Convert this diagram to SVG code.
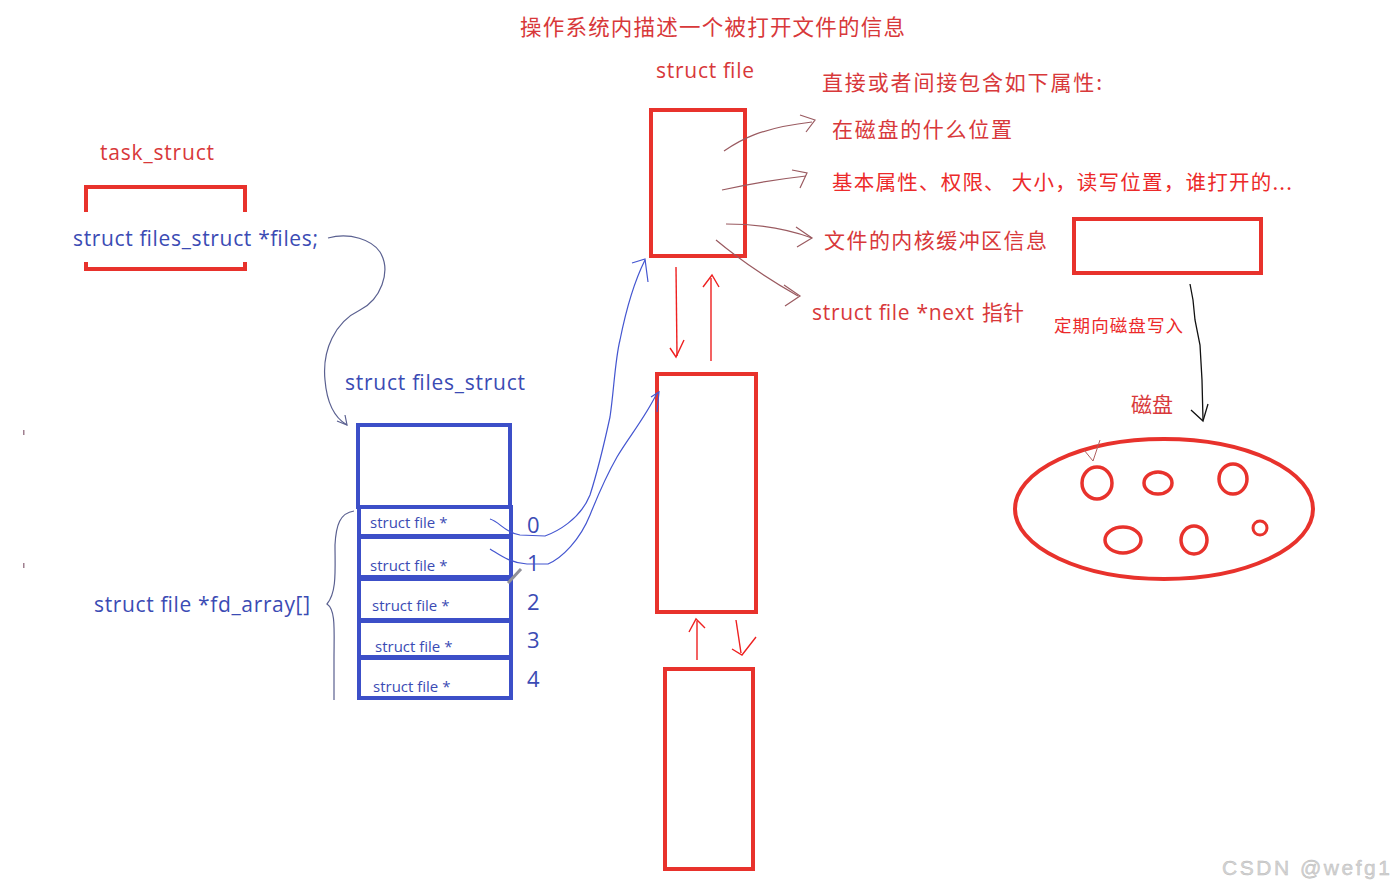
<svg xmlns="http://www.w3.org/2000/svg" width="1396" height="890" viewBox="0 0 1396 890">
<defs>
<style>
.cn{font-family:"Noto Sans CJK SC","Noto Sans",sans-serif;}
.lt{font-family:"Open Sans","Noto Sans",sans-serif;}
.red{fill:#d8383a;}
.bred{fill:#ec2a2a;}
.blue{fill:#3b4bb4;}
.rbox{fill:none;stroke:#e8322c;stroke-width:4;}
.bbox{fill:none;stroke:#3c4fc8;stroke-width:4;}
.thin{fill:none;stroke:#9a5a60;stroke-width:1.2;}
.bl{fill:none;stroke:#4456d0;stroke-width:1.2;}
.rl{fill:none;stroke:#ee2020;stroke-width:1.4;}
.sf{font-size:15px;}
</style>
</defs>
<rect width="1396" height="890" fill="#ffffff"/>

<text class="cn red" x="520" y="35" font-size="21.5" textLength="385">操作系统内描述一个被打开文件的信息</text>

<g id="task_struct">
<text class="lt red" x="100" y="160" font-size="21" textLength="114">task_struct</text>
<path d="M86,212 V187 H245 V212" fill="none" stroke="#e8322c" stroke-width="4"/>
<path d="M86,262 V269 H245 V262" fill="none" stroke="#e8322c" stroke-width="4"/>
<text class="lt blue" x="73" y="246" font-size="21" textLength="245">struct files_struct *files;</text>
</g>

<g id="files_struct">
<text class="lt blue" x="345" y="390" font-size="21" textLength="180">struct files_struct</text>
<rect class="bbox" x="358" y="425" width="152" height="82"/>
<rect class="bbox" x="359" y="507" width="152" height="29"/>
<rect class="bbox" x="359" y="537" width="152" height="40"/>
<rect class="bbox" x="359" y="579" width="152" height="41"/>
<rect class="bbox" x="359" y="621" width="152" height="36"/>
<rect class="bbox" x="359" y="658" width="152" height="40"/>
<text class="lt blue sf" x="370" y="528">struct file *</text>
<text class="lt blue sf" x="370" y="571">struct file *</text>
<text class="lt blue sf" x="372" y="611">struct file *</text>
<text class="lt blue sf" x="375" y="652">struct file *</text>
<text class="lt blue sf" x="373" y="692">struct file *</text>
<text class="lt blue" x="527" y="533" font-size="22">0</text>
<text class="lt blue" x="527" y="571" font-size="22">1</text>
<text class="lt blue" x="527" y="610" font-size="22">2</text>
<text class="lt blue" x="527" y="648" font-size="22">3</text>
<text class="lt blue" x="527" y="687" font-size="22">4</text>
</g>

<g id="fd_array">
<text class="lt blue" x="94" y="612" font-size="21" textLength="216">struct file *fd_array[]</text>
<path d="M354,511 C340,513 336,525 335,545 C335,570 337,592 327,604 C336,610 334,630 334,660 L334,700" fill="none" stroke="#5a6090" stroke-width="1.2"/>
</g>

<g id="file1"><rect class="rbox" x="651" y="110" width="94" height="146"/></g>
<g id="file2"><rect class="rbox" x="657" y="374" width="99" height="238"/></g>
<g id="file3"><rect class="rbox" x="665" y="669" width="88" height="200"/></g>
<g id="buffer"><rect class="rbox" x="1074" y="219" width="187" height="54"/></g>

<g id="attrs">
<text class="lt red" x="656" y="78" font-size="21" textLength="98">struct file</text>
<text class="cn red" x="822" y="90" font-size="21" textLength="280">直接或者间接包含如下属性:</text>
<text class="cn red" x="832" y="137" font-size="21" textLength="180">在磁盘的什么位置</text>
<text class="cn bred" x="832" y="190" font-size="20.5" textLength="460">基本属性、权限、 大小，读写位置，谁打开的...</text>
<text class="cn red" x="824" y="248" font-size="21" textLength="223">文件的内核缓冲区信息</text>
<text class="lt red" x="812" y="320" font-size="21" textLength="162">struct file *next</text>
<text class="cn red" x="982" y="320" font-size="21">指针</text>
<text class="cn bred" x="1054" y="332" font-size="17.5" textLength="129">定期向磁盘写入</text>
</g>

<g id="disk">
<text class="cn red" x="1131" y="412" font-size="21">磁盘</text>
<ellipse cx="1164" cy="509" rx="149" ry="70" fill="none" stroke="#e8322c" stroke-width="4"/>
<ellipse cx="1097" cy="483" rx="15" ry="16" fill="none" stroke="#e8322c" stroke-width="3.5"/>
<ellipse cx="1158" cy="483" rx="14" ry="11" fill="none" stroke="#e8322c" stroke-width="3.5"/>
<ellipse cx="1233" cy="479" rx="14" ry="15" fill="none" stroke="#e8322c" stroke-width="3.5"/>
<ellipse cx="1123" cy="540" rx="18" ry="13" fill="none" stroke="#e8322c" stroke-width="3.5"/>
<ellipse cx="1194" cy="540" rx="13" ry="14" fill="none" stroke="#e8322c" stroke-width="3.5"/>
<ellipse cx="1260" cy="528" rx="7" ry="7" fill="none" stroke="#e8322c" stroke-width="3"/>
</g>

<g id="connectors">
<!-- files pointer curve -->
<path d="M328,238 C350,232 372,240 380,252 C392,272 380,300 360,310 C335,322 322,350 325,380 C327,405 335,418 347,425" fill="none" stroke="#5a6090" stroke-width="1.2"/>
<path d="M337,421 L347,425 L345,415" fill="none" stroke="#5a6090" stroke-width="1.2"/>
<!-- fd 0 -> file1 -->
<path d="M490,519 C500,522 505,533 520,535 L545,536 C556,532 580,520 590,495 C598,470 605,440 610,417 C614,390 615,360 620,340 C626,310 635,280 645,260" class="bl"/>
<path d="M632,263 L645,259 L648,282" class="bl"/>
<!-- fd 1 -> file2 -->
<path d="M490,549 C500,555 510,563 527,564 L548,564 C562,558 580,540 590,515 C598,495 605,478 617,457 C628,438 645,418 657,393" class="bl"/>
<path d="M651,397 L659,392 L657,412" class="bl"/>
<!-- pencil mark -->
<path d="M508,583 L521,569" fill="none" stroke="#909098" stroke-width="3"/>
<!-- file1 <-> file2 -->
<path d="M676,267 L677,356" class="rl"/>
<path d="M670,348 L676,357 L684,340" class="rl"/>
<path d="M711,361 L711,278" class="rl"/>
<path d="M703,287 L712,275 L719,287" class="rl"/>
<!-- file2 <-> file3 -->
<path d="M697,660 L697,621" class="rl"/>
<path d="M689,632 L696,619 L705,628" class="rl"/>
<path d="M736,620 L741,653" class="rl"/>
<path d="M732,649 L742,655 L756,637" class="rl"/>
<!-- attribute arrows -->
<path d="M724,151 C740,140 760,128 812,122" class="thin"/>
<path d="M800,115 L815,120 L806,132" class="thin"/>
<path d="M722,190 C745,185 770,180 806,176" class="thin"/>
<path d="M792,170 L807,173 L800,188" class="thin"/>
<path d="M726,224 C760,224 790,230 812,238" class="thin"/>
<path d="M796,227 L812,238 L797,247" class="thin"/>
<path d="M716,240 C740,260 770,280 798,296" class="thin"/>
<path d="M784,285 L800,296 L785,306" class="thin"/>
<!-- buffer -> disk -->
<path d="M1190,284 L1193,300 L1195,320 L1200,345 L1202,380 L1203,420" fill="none" stroke="#111" stroke-width="1.3"/>
<path d="M1191,410 L1203,421 L1208,404" fill="none" stroke="#111" stroke-width="1.3"/>
<path d="M1084,450 L1093,461 L1100,440" fill="none" stroke="#b06060" stroke-width="1"/>
</g>

<rect x="23" y="430" width="1.5" height="5" fill="#a08090"/>
<rect x="23" y="563" width="1.5" height="5" fill="#a08090"/>
<text x="1222" y="875" font-family="Liberation Sans, sans-serif" font-size="21" fill="#d4d4d4" stroke="#b8b8b8" stroke-width="0.4" textLength="168">CSDN @wefg1</text>
</svg>
